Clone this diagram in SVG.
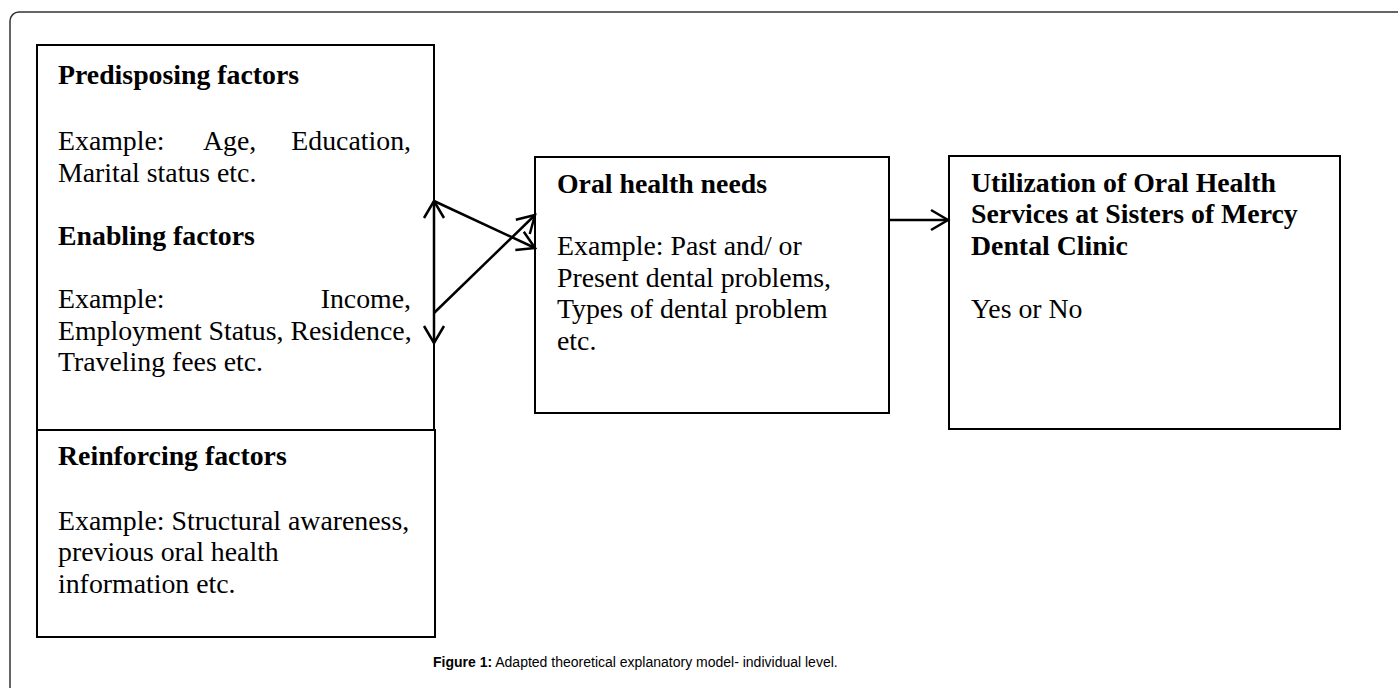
<svg xmlns="http://www.w3.org/2000/svg" width="1398" height="688" viewBox="0 0 1398 688">
<style>
.box{fill:#fff;stroke:#000;stroke-width:2}
.t{font-family:"Liberation Serif","Times New Roman",serif;font-size:27.8px;fill:#000}
.b{font-weight:bold}
.conn{stroke:#000;stroke-width:2.5;fill:none}
.cap{font-family:"Liberation Sans",Arial,sans-serif;font-size:14px;fill:#000}
</style>
<defs>
<marker id="ah" viewBox="-20 -12 24 24" markerWidth="24" markerHeight="24" refX="0" refY="0" markerUnits="userSpaceOnUse" orient="auto-start-reverse">
<path d="M-17,-10 L0,0 L-17,10" fill="none" stroke="#000" stroke-width="2.5"/>
</marker>
</defs>
<rect x="0" y="0" width="1398" height="688" fill="#fff"/>
<rect id="frame" x="10" y="12" width="1400" height="700" rx="9" fill="none" stroke="#333" stroke-width="1.5"/>
<g id="predisposing">
<rect class="box" x="37" y="45" width="397" height="385"/>
<text class="t b" x="58" y="84">Predisposing factors</text>
<text class="t" x="58" y="150">Example:</text>
<text class="t" x="203" y="150">Age,</text>
<text class="t" x="411" y="150" text-anchor="end">Education,</text>
<text class="t" x="58" y="182">Marital status etc.</text>
<text class="t b" x="58" y="245">Enabling factors</text>
<text class="t" x="58" y="308">Example:</text>
<text class="t" x="411" y="308" text-anchor="end">Income,</text>
<text class="t" x="58" y="340">Employment Status, Residence,</text>
<text class="t" x="58" y="371">Traveling fees etc.</text>
</g>
<g id="reinforcing">
<rect class="box" x="37" y="430" width="398" height="207"/>
<text class="t b" x="58" y="465">Reinforcing factors</text>
<text class="t" x="58" y="530">Example: Structural awareness,</text>
<text class="t" x="58" y="561">previous oral health</text>
<text class="t" x="58" y="593">information etc.</text>
</g>
<g id="oral">
<rect class="box" x="535" y="157" width="354" height="256"/>
<text class="t b" x="557" y="193">Oral health needs</text>
<text class="t" x="557" y="255">Example: Past and/ or</text>
<text class="t" x="557" y="287">Present dental problems,</text>
<text class="t" x="557" y="318">Types of dental problem</text>
<text class="t" x="557" y="350">etc.</text>
</g>
<g id="utilization">
<rect class="box" x="949" y="156" width="391" height="273"/>
<text class="t b" x="971" y="192">Utilization of Oral Health</text>
<text class="t b" x="971" y="223">Services at Sisters of Mercy</text>
<text class="t b" x="971" y="255">Dental Clinic</text>
<text class="t" x="971" y="318">Yes or No</text>
</g>
<g id="connectors">
<line class="conn" x1="434" y1="201" x2="434" y2="343" marker-start="url(#ah)" marker-end="url(#ah)"/>
<line class="conn" x1="434" y1="201" x2="535" y2="248" marker-end="url(#ah)"/>
<line class="conn" x1="434" y1="313" x2="535" y2="215" marker-end="url(#ah)"/>
<line class="conn" x1="889" y1="220" x2="948" y2="220" marker-end="url(#ah)"/>
</g>
<g id="caption">
<text class="cap" x="433" y="667"><tspan font-weight="bold">Figure 1:</tspan> Adapted theoretical explanatory model- individual level.</text>
</g>
</svg>
